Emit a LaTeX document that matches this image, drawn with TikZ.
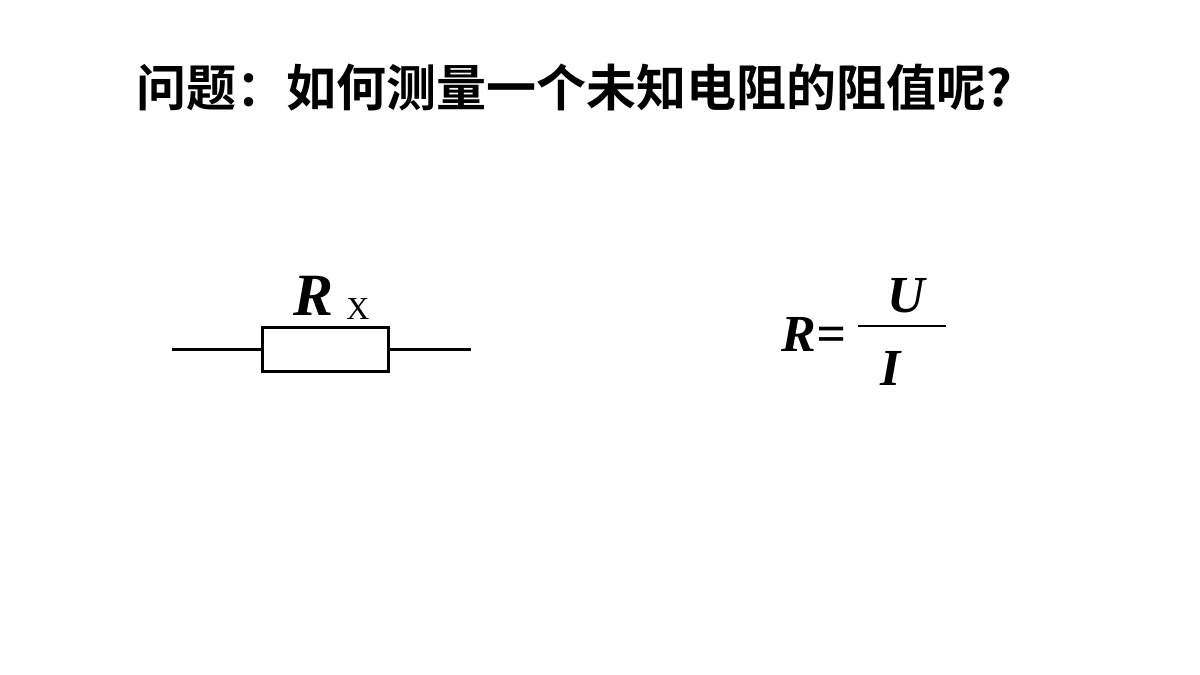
\documentclass[tikz,border=0pt]{standalone}
\usepackage{fontspec}
\setmainfont{Liberation Serif}
\newfontfamily\cjk{Noto Sans CJK SC}[BoldFont=* Bold]
\begin{document}
\begin{tikzpicture}[x=1pt,y=-1pt,wire/.style={line width=3pt}]
\useasboundingbox (0,0) rectangle (1200,675);
\node[font=\cjk\bfseries\fontsize{50}{54}\selectfont,anchor=west] (title) at (133,88) {问题：如何测量一个未知电阻的阻值呢?};
\node[draw,wire,minimum width=126pt,minimum height=44pt,inner sep=0] (rx) at (325,349) {};
\coordinate (l) at (172,349);
\coordinate (r) at (471,349);
\draw[wire] (l) -- (rx.west);
\draw[wire] (rx.east) -- (r);
\node[font=\fontsize{60}{60}\selectfont\bfseries\itshape] (rlab) at (314,296) {R};
\node[font=\fontsize{32}{32}\selectfont] (xlab) at (358,309) {X};
\node[font=\fontsize{52}{52}\selectfont\bfseries\itshape] (req) at (814,334) {R=};
\draw[line width=1.5pt] (858,326) -- (946,326);
\node[font=\fontsize{52}{52}\selectfont\bfseries\itshape] (u) at (906,296) {U};
\node[font=\fontsize{52}{52}\selectfont\bfseries\itshape] (i) at (891,368) {I};
\end{tikzpicture}
\end{document}
